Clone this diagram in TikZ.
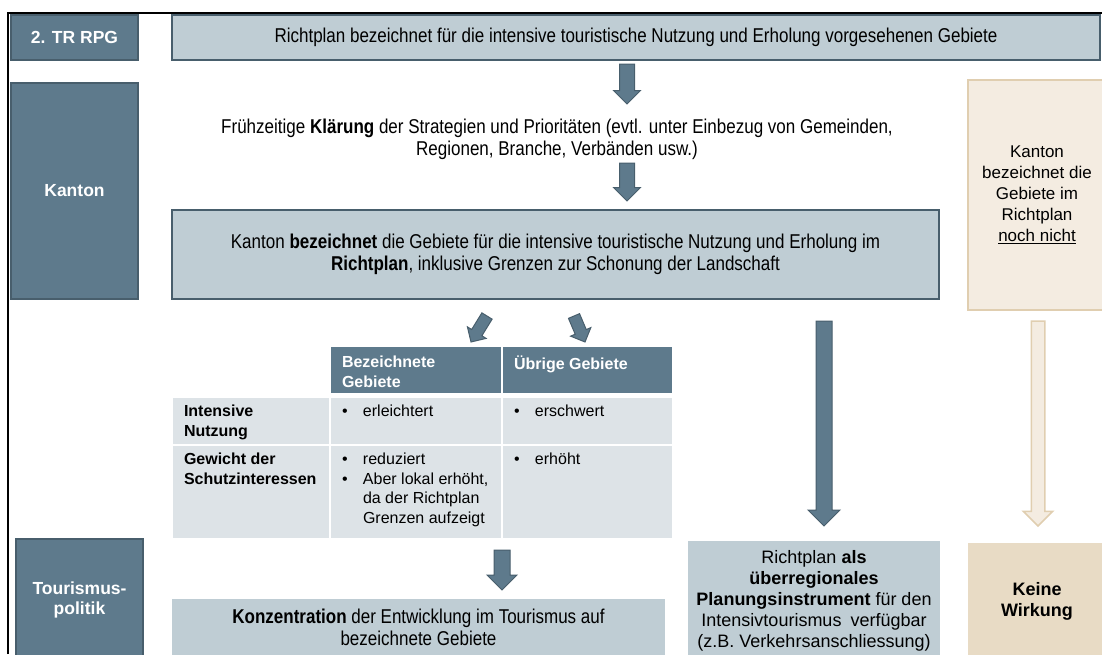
\documentclass[tikz,border=0pt]{standalone}
\usepackage{fontspec}
\setmainfont{Liberation Sans}
\newfontfamily\narrowfont[FakeStretch=0.85]{Liberation Sans}
\usetikzlibrary{shapes.arrows}
\usetikzlibrary{calc}
\definecolor{tblue}{RGB}{94,122,140}
\definecolor{tline}{RGB}{72,94,108}
\definecolor{tlight}{RGB}{191,205,212}
\definecolor{tcell}{RGB}{221,227,231}
\definecolor{tanlight}{RGB}{244,236,225}
\definecolor{tanline}{RGB}{224,206,176}
\definecolor{tandark}{RGB}{232,219,197}
\tikzset{sidebox/.style = {fill=tblue, draw=tline, line width=1.5, text=white, inner sep=0,
    align=center, font=\fontsize{17.5}{20}\selectfont\bfseries}}
\tikzset{flowbox/.style = {fill=tlight, draw=tline, line width=1.5, inner sep=0,
    align=center, font=\narrowfont\fontsize{20}{22}\selectfont}}
\tikzset{plainbox/.style = {fill=tlight, inner sep=0, align=center,
    font=\fontsize{18}{21}\selectfont}}
\tikzset{cell/.style = {fill=tcell, inner sep=0}}
\tikzset{hcell/.style = {fill=tblue, inner sep=0}}
\tikzset{celltext/.style = {anchor=north west, align=left, inner xsep=11, inner ysep=7,
    font=\fontsize{16}{19.5}\selectfont}}
\tikzset{fatarr/.style = {single arrow, single arrow tip angle=90, inner xsep=0, outer sep=0,
    fill=tblue, draw=tline, line width=1}}
\newcommand{\bul}{\makebox[21pt][l]{\textbullet}}
\newcommand{\fatarrow}[3][]{%
  \path let \p1=(#2), \p2=(#3),
    \n1={atan2(\y2-\y1,\x2-\x1)}, \n2={veclen(\x2-\x1,\y2-\y1)} in
    node[fatarr, #1, rotate=\n1, minimum height=\n2, anchor=tail] at (\p1) {};}

\begin{document}
\begin{tikzpicture}[x=1pt, y=-1pt]
  \useasboundingbox (0,0) rectangle (1102,654);
  \draw [line width=1.5] (8,654) -- (8,13) -- (1102,13);

  % left column
  \node [sidebox, minimum width=127, minimum height=45] (rpg) at (74.5,37.5) {2. TR RPG};
  \node [sidebox, minimum width=127, minimum height=216] (kanton) at (74.5,191) {Kanton};
  \node [sidebox, minimum width=127, minimum height=121] (tour) at (79.5,599.5) {Tourismus-\\politik};

  % main flow
  \node [flowbox, minimum width=928, minimum height=45] (top) at (636,37.5)
    {Richtplan bezeichnet f\"ur die intensive touristische Nutzung und Erholung vorgesehenen Gebiete};
  \node [align=center, inner sep=0, font=\narrowfont\fontsize{20}{22}\selectfont] (klaer) at (557,139)
    {Fr\"uhzeitige \textbf{Kl\"arung} der Strategien und Priorit\"aten (evtl. unter Einbezug von Gemeinden,\\
     Regionen, Branche, Verb\"anden usw.)};
  \node [flowbox, minimum width=767, minimum height=89] (bez) at (555.5,254.5)
    {Kanton \textbf{bezeichnet} die Gebiete f\"ur die intensive touristische Nutzung und Erholung im\\
     \textbf{Richtplan}, inklusive Grenzen zur Schonung der Landschaft};

  % tan column
  \node [fill=tanlight, draw=tanline, line width=2, minimum width=138, minimum height=230,
    align=center, font=\fontsize{17}{21}\selectfont] (noch) at (1037,195)
    {Kanton\\bezeichnet die\\Gebiete im\\Richtplan\\\underline{noch nicht}};

  % table
  \node [hcell, minimum width=170, minimum height=46,
    label={[celltext, text=white, inner ysep=9]north west:{\textbf{Bezeichnete}\\\textbf{Gebiete}}}] (h1) at (416,370) {};
  \node [hcell, minimum width=169, minimum height=46,
    label={[celltext, text=white, inner ysep=9]north west:{\textbf{\"Ubrige Gebiete}}}] (h2) at (587.5,370) {};
  \node [cell, minimum width=156, minimum height=46,
    label={[celltext]north west:{\textbf{Intensive}\\\textbf{Nutzung}}}] (r1l) at (251,421) {};
  \node [cell, minimum width=170, minimum height=46,
    label={[celltext]north west:{\bul erleichtert}}] (r1a) at (416,421) {};
  \node [cell, minimum width=169, minimum height=46,
    label={[celltext]north west:{\bul erschwert}}] (r1b) at (587.5,421) {};
  \node [cell, minimum width=156, minimum height=92,
    label={[celltext]north west:{\textbf{Gewicht der}\\\textbf{Schutzinteressen}}}] (r2l) at (251,492) {};
  \node [cell, minimum width=170, minimum height=92,
    label={[celltext]north west:{\bul reduziert\\\bul Aber lokal erh\"oht,\\\hspace*{21pt}da der Richtplan\\\hspace*{21pt}Grenzen aufzeigt}}] (r2a) at (416,492) {};
  \node [cell, minimum width=169, minimum height=92,
    label={[celltext]north west:{\bul erh\"oht}}] (r2b) at (587.5,492) {};

  % bottom row
  \node [plainbox, minimum width=493, minimum height=57, font=\narrowfont\fontsize{20}{22}\selectfont] (konz) at (418.5,627.5)
    {\textbf{Konzentration} der Entwicklung im Tourismus auf\\bezeichnete Gebiete};
  \node [plainbox, minimum width=252, minimum height=119] (instr) at (814,600.5)
    {Richtplan \textbf{als}\\\textbf{\"uberregionales}\\\textbf{Planungsinstrument} f\"ur den\\
     Intensivtourismus\enspace verf\"ugbar\\(z.B. Verkehrsanschliessung)};
  \node [fill=tandark, inner sep=0, minimum width=138, minimum height=117, align=center,
    font=\fontsize{18}{21}\selectfont\bfseries] (keine) at (1037,601.5) {Keine\\Wirkung};

  % arrows
  \coordinate (a1s) at (627,64);   \coordinate (a1e) at (627,104);
  \coordinate (a2s) at (627,163);  \coordinate (a2e) at (627,201);
  \coordinate (aLs) at (487,316);  \coordinate (aLe) at (471,342);
  \coordinate (aRs) at (574,316);  \coordinate (aRe) at (585,342);
  \coordinate (a3s) at (502,550);  \coordinate (a3e) at (502,590);
  \coordinate (a4s) at (824,321);  \coordinate (a4e) at (824,526);
  \coordinate (a5s) at (1038,321); \coordinate (a5e) at (1038,526);
  \fatarrow[inner ysep=7, single arrow head extend=6, minimum width=26]{a1s}{a1e}
  \fatarrow[inner ysep=7, single arrow head extend=6, minimum width=26]{a2s}{a2e}
  \fatarrow[inner ysep=5.5, single arrow head extend=5, minimum width=21]{aLs}{aLe}
  \fatarrow[inner ysep=5.5, single arrow head extend=5, minimum width=21]{aRs}{aRe}
  \fatarrow[inner ysep=7.5, single arrow head extend=7, minimum width=29]{a3s}{a3e}
  \fatarrow[inner ysep=7.5, single arrow head extend=8, minimum width=31]{a4s}{a4e}
  \fatarrow[inner ysep=6, single arrow head extend=8, minimum width=28,
    fill=tanlight, draw=tanline, line width=1.5]{a5s}{a5e}
\end{tikzpicture}
\end{document}
